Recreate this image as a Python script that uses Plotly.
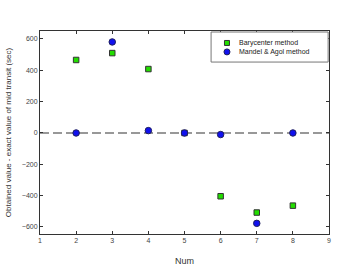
import plotly.graph_objects as go

nums = [2, 3, 4, 5, 6, 7, 8]
barycenter = [466, 510, 408, 0, -404, -508, -464]
mandel_agol = [0, 581, 15, 0, -10, -577, 0]
x_ticks = [1, 2, 3, 4, 5, 6, 7, 8, 9]
y_ticks = [-600, -400, -200, 0, 200, 400, 600]
series_names = ["Barycenter method", "Mandel & Agol method"]
reference_value = 0

green = "#22dd00"
blue = "#1010ee"
font_family = "Liberation Sans, Arial"

fig = go.Figure()
fig.add_trace(go.Scatter(
    x=nums, y=barycenter, mode="markers", name=series_names[0],
    marker=dict(symbol="square", size=5.5, color=green, line=dict(color="#333333", width=1))))
fig.add_trace(go.Scatter(
    x=nums, y=mandel_agol, mode="markers", name=series_names[1],
    marker=dict(symbol="circle", size=6.5, color=blue, line=dict(color="#202060", width=1))))

axis_common = dict(showgrid=False, zeroline=False, showline=True, linecolor="#333333", linewidth=1,
                   mirror="allticks", ticks="inside", ticklen=3, tickcolor="#333333", automargin=False,
                   tickfont=dict(family=font_family, size=7, color="#444444"))
fig.update_xaxes(range=[1, 9], tickvals=x_ticks, **axis_common,
                 title=dict(text="Num", font=dict(family=font_family, size=9, color="#333333"), standoff=14))
fig.update_yaxes(range=[-645, 651], tickvals=y_ticks, **axis_common,
                 title=dict(text="Obtained value - exact value of mid transit (sec)",
                            font=dict(family=font_family, size=8, color="#333333"), standoff=9))

# compact legend box drawn with shapes/annotations
leg_x0, leg_x1, leg_y0, leg_y1 = 0.592, 0.997, 0.847, 0.995
mk_x, txt_x = 0.647, 0.682
row_y = [0.941, 0.897]
shapes = [
    dict(type="line", xref="paper", yref="y", x0=0, x1=1, y0=reference_value, y1=reference_value,
         line=dict(color="#777777", width=1.5, dash="9px,4px"), layer="below"),
    dict(type="rect", xref="paper", yref="paper", x0=leg_x0, x1=leg_x1, y0=leg_y0, y1=leg_y1,
         line=dict(color="#777777", width=1), fillcolor="white", layer="above"),
    dict(type="rect", xref="paper", yref="paper", xsizemode="pixel", ysizemode="pixel",
         xanchor=mk_x, yanchor=row_y[0], x0=-2.5, x1=2.5, y0=-2.5, y1=2.5,
         line=dict(color="#333333", width=1), fillcolor=green, layer="above"),
    dict(type="circle", xref="paper", yref="paper", xsizemode="pixel", ysizemode="pixel",
         xanchor=mk_x, yanchor=row_y[1], x0=-3, x1=3, y0=-3, y1=3,
         line=dict(color="#202060", width=1), fillcolor=blue, layer="above"),
]
annotations = [
    dict(xref="paper", yref="paper", x=txt_x, y=ry, text=nm, showarrow=False,
         xanchor="left", yanchor="middle", font=dict(family=font_family, size=7, color="#222222"))
    for nm, ry in zip(series_names, row_y)
]

fig.update_layout(
    width=347, height=268, margin=dict(l=40, r=18, t=31, b=34),
    paper_bgcolor="white", plot_bgcolor="white", showlegend=False,
    shapes=shapes, annotations=annotations,
)
fig.write_html("out.html", config={"displayModeBar": False},
               post_script="document.body.style.margin='0';")
